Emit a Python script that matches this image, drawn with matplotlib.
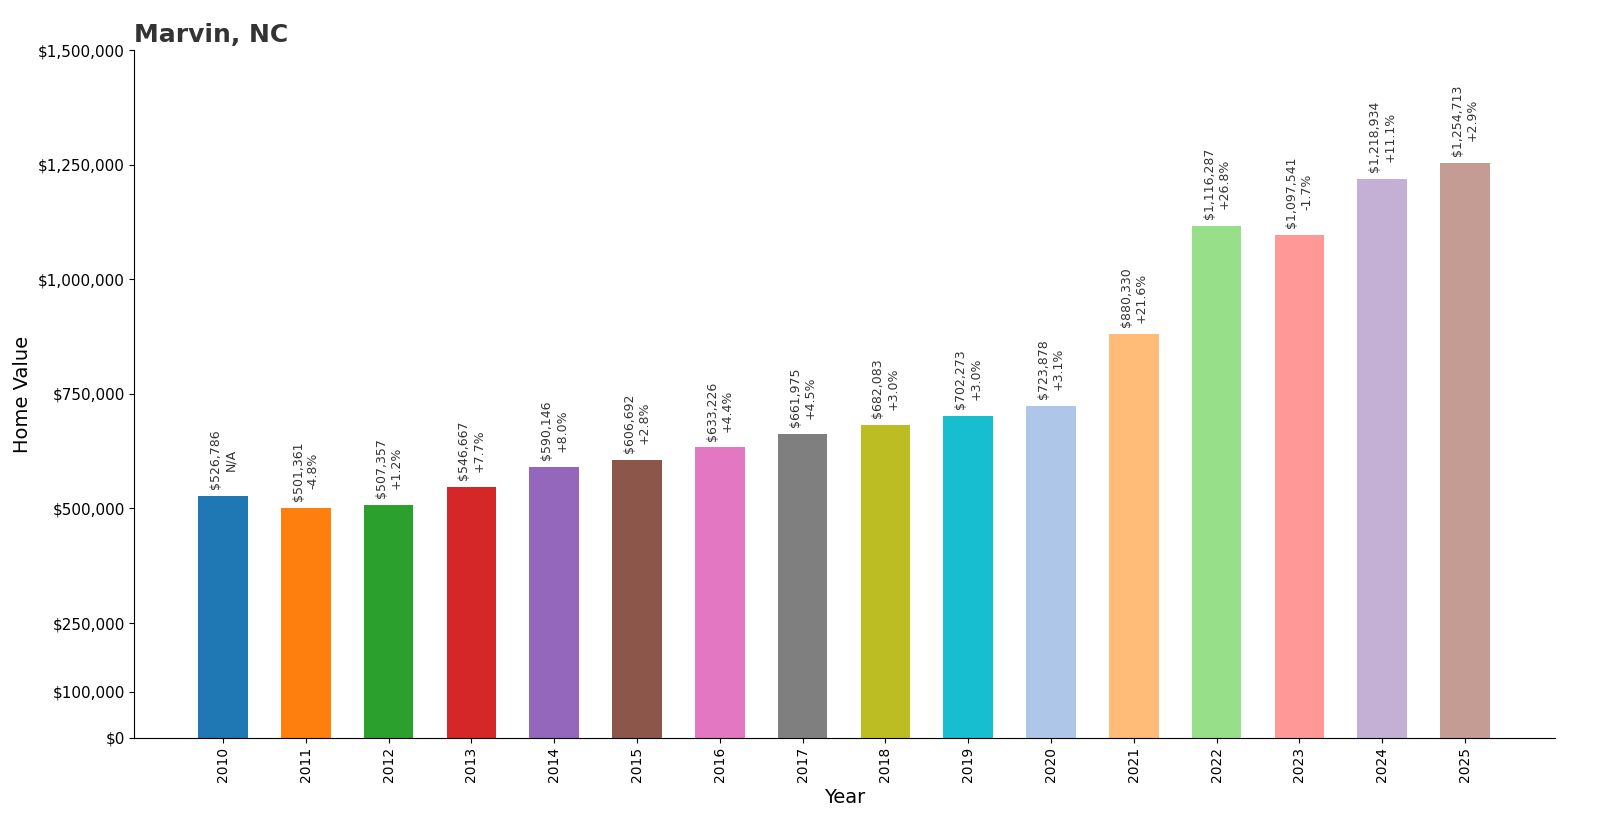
import matplotlib
matplotlib.use("Agg")
import matplotlib.pyplot as plt

years = ["2010", "2011", "2012", "2013", "2014", "2015", "2016", "2017",
         "2018", "2019", "2020", "2021", "2022", "2023", "2024", "2025"]
values = [526786, 501361, 507357, 546667, 590146, 606692, 633226, 661975,
          682083, 702273, 723878, 880330, 1116287, 1097541, 1218934, 1254713]
changes = ["N/A", "-4.8%", "+1.2%", "+7.7%", "+8.0%", "+2.8%", "+4.4%", "+4.5%",
           "+3.0%", "+3.0%", "+3.1%", "+21.6%", "+26.8%", "-1.7%", "+11.1%", "+2.9%"]
ytick_vals = [0, 100000, 250000, 500000, 750000, 1000000, 1250000, 1500000]

colors = ["#1f77b4", "#ff7f0e", "#2ca02c", "#d62728", "#9467bd", "#8c564b",
          "#e377c2", "#7f7f7f", "#bcbd22", "#17becf", "#aec7e8", "#ffbb78",
          "#98df8a", "#ff9896", "#c5b0d5", "#c49c94"]

fig, ax = plt.subplots(figsize=(16, 8.4), dpi=100)
fig.subplots_adjust(left=0.084, right=0.972, top=0.94, bottom=0.122)

x = list(range(len(years)))
ax.bar(x, values, width=0.6, color=colors)
for i, (v, c) in enumerate(zip(values, changes)):
    ax.annotate(f"${v:,.0f}\n{c}", (i, v), xytext=(0, 5), textcoords="offset points",
                rotation=90, ha="center", va="bottom", fontsize=9, color="#333333")

ax.set_xticks(x)
ax.set_xticklabels(years, rotation=90, fontsize=10)
ax.set_yticks(ytick_vals)
ax.set_yticklabels([f"${t:,.0f}" for t in ytick_vals], fontsize=11)
ax.set_xlim(-1.07, 15 + 1.09)
ax.set_ylim(0, 1500000)
ax.set_xlabel("Year", fontsize=14)
ax.set_ylabel("Home Value", fontsize=14)
ax.set_title("Marvin, NC", loc="left", fontsize=18, fontweight="bold", color="#333333")
ax.spines["top"].set_visible(False)
ax.spines["right"].set_visible(False)

fig.savefig("out.png")
